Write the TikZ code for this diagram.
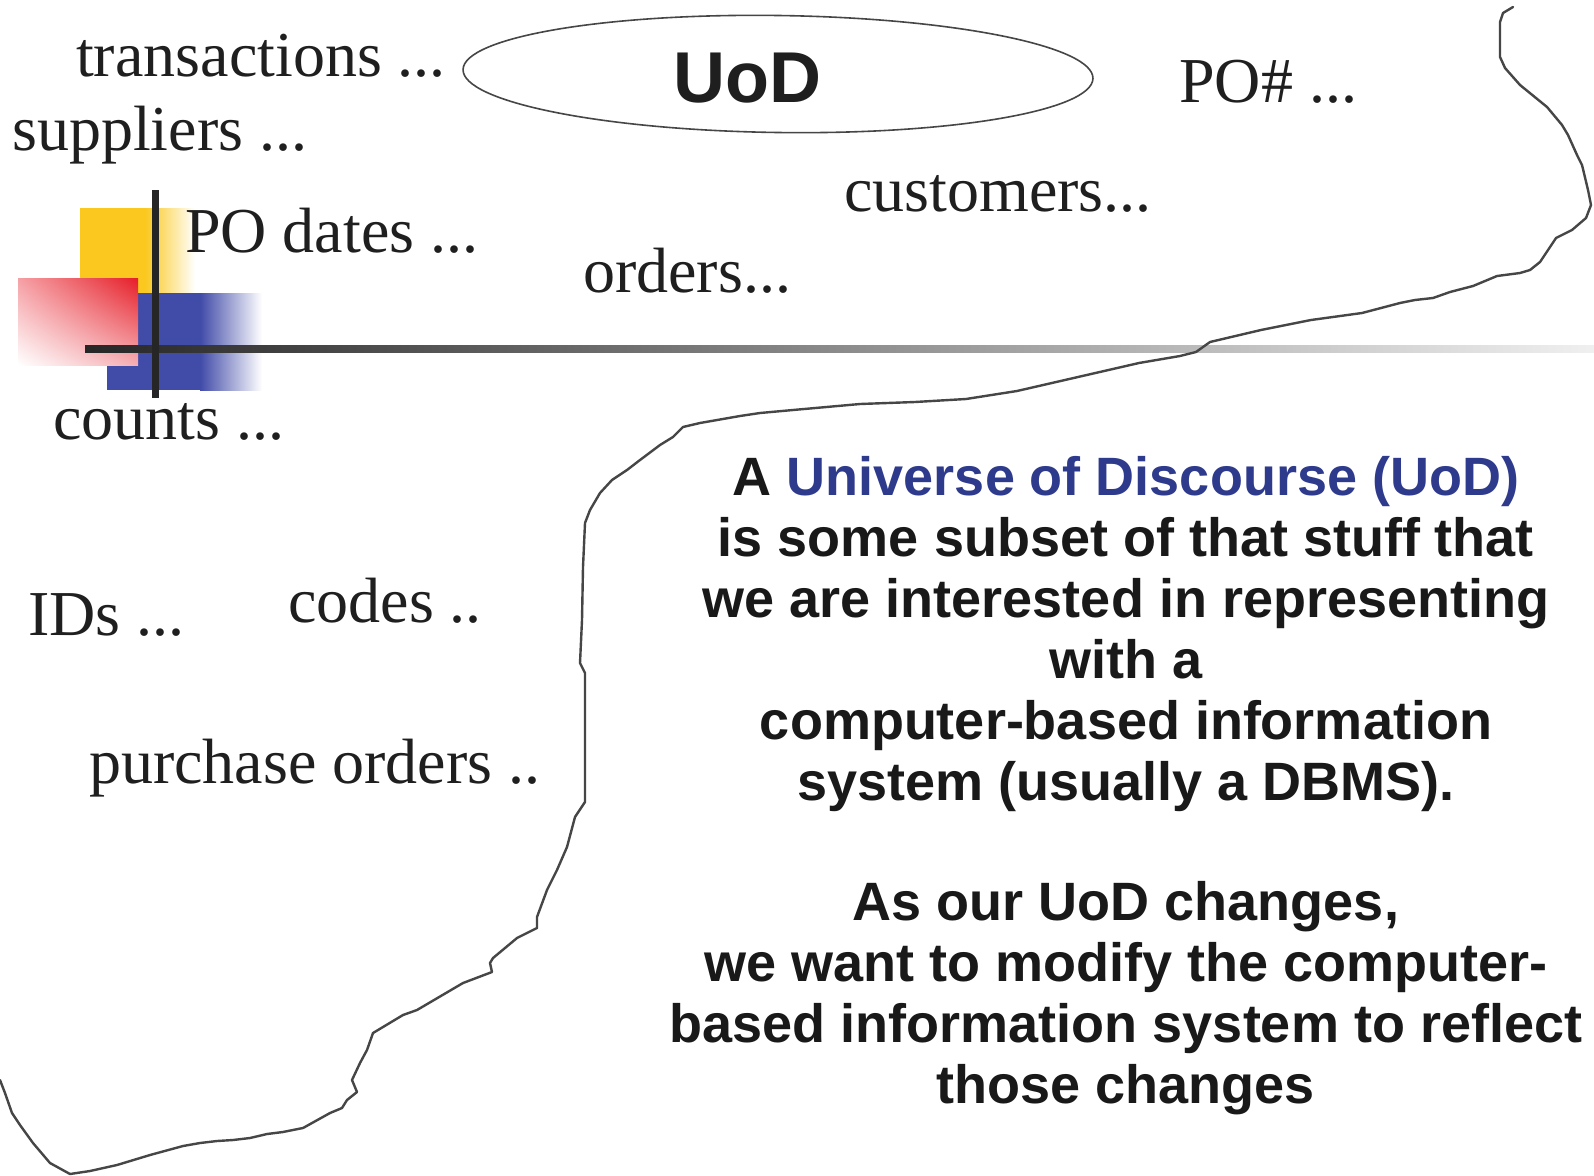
\documentclass[tikz,border=0pt]{standalone}
\usepackage{fontspec}
\setmainfont{Liberation Serif}
\setsansfont{Liberation Sans}
\usetikzlibrary{shapes.geometric,shadings}
\definecolor{uodblue}{RGB}{46,58,140}
\definecolor{decoyellow}{RGB}{250,200,30}
\definecolor{decored}{RGB}{230,30,40}
\definecolor{decoblue}{RGB}{65,75,168}
\definecolor{pinkA}{RGB}{245,160,165}
\definecolor{pinkB}{RGB}{245,175,180}
\definecolor{inkgray}{RGB}{70,70,70}
\tikzset{
  lbl/.style={font=\fontsize{64}{70}\selectfont\rmfamily, text=black!88, inner sep=0pt, anchor=base west},
  bodyline/.style={font=\fontsize{54}{61}\selectfont\sffamily\bfseries, text=black!90, inner sep=0pt, anchor=base},
  outline/.style={draw=inkgray, line width=2.4pt, line join=round, line cap=round},
}
\begin{document}
\begin{tikzpicture}[x=1pt,y=-1pt]
\useasboundingbox[fill=white] (0,0) rectangle (1594,1175);

% decoration: coloured blocks
\fill[decoyellow] (80,208) rectangle (145,300);
\shade[left color=decoyellow, right color=white] (145,208) rectangle (195,300);
\fill[decoblue] (107,293) rectangle (200,390);
\shade[left color=decoblue, right color=white] (200,293) rectangle (262,390);
\shade[upper left=pinkA, upper right=decored,
       lower left=white, lower right=pinkB]
       (18,278) rectangle (138,365);
% lines
\shade[left color=black!85, middle color=black!42, right color=black!6] (85,345.5) rectangle (1594,352.5);
\fill[black!85] (151.5,190) rectangle (158.5,398);

% ellipse
\node[draw=inkgray, line width=1.6pt, ellipse, minimum width=630pt, minimum height=117pt, inner sep=0pt, rotate=-0.8] (ell) at (778,74) {};
\node[font=\fontsize{72}{80}\selectfont\sffamily\bfseries, text=black!88, inner sep=0pt, anchor=base] (uod) at (747,102) {UoD};

% boundary curve
\draw[outline] (1513,7) -- (1503,13) -- (1500,22) -- (1500,57) -- (1505,68) -- (1520,85) -- (1547,107) -- (1562,125) -- (1568,135) -- (1577,155) -- (1582,165) -- (1588,190) -- (1591,205) -- (1586,218) -- (1572,230) -- (1560,236) -- (1556,238) -- (1548,250) -- (1540,262) -- (1530,270) -- (1520,273) -- (1497,276) -- (1473,286) -- (1450,292) -- (1433,298) -- (1415,300) -- (1400,303) -- (1362,313) -- (1311,320) -- (1261,330) -- (1210,342) -- (1196,352) -- (1180,356) -- (1139,363) -- (1078,377) -- (1017,391) -- (966,399) -- (915,402) -- (860,404) -- (793,410) -- (760,413) -- (740,416) -- (700,423) -- (683,427) -- (673,437) -- (660,445) -- (640,460) -- (627,470) -- (612,480) -- (600,493) -- (590,510) -- (585,523) -- (583,567) -- (582,620) -- (580,663) -- (585,673) -- (585,802) -- (575,817) -- (567,847) -- (557,870) -- (547,890) -- (537,917) -- (537,928) -- (517,938) -- (493,958) -- (490,963) -- (492,972) -- (463,983) -- (417,1010) -- (403,1015) -- (373,1033) -- (367,1050) -- (360,1063) -- (352,1080) -- (357,1092) -- (347,1100) -- (342,1108) -- (330,1113) -- (303,1128) -- (283,1132) -- (267,1134) -- (250,1138) -- (233,1140) -- (217,1141) -- (200,1143) -- (183,1146) -- (150,1155) -- (117,1165) -- (90,1171) -- (70,1174) -- (50,1163) -- (33,1143) -- (20,1125) -- (12,1113) -- (5,1093) -- (0,1080);

% scattered labels
\node[lbl] (trans) at (76,76) {transactions ...};
\node[lbl] (supp) at (12,150) {suppliers ...};
\node[lbl] (podates) at (185,252) {PO dates ...};
\node[lbl] (orders) at (583,292) {orders...};
\node[lbl] (cust) at (844,211) {customers...};
\node[lbl] (ponum) at (1179,102) {PO\# ...};
\node[lbl] (counts) at (53,439) {counts ...};
\node[lbl] (ids) at (28,635) {IDs ...};
\node[lbl] (codes) at (288,622) {codes ..};
\node[lbl] (porders) at (89,783) {purchase orders ..};

% explanatory text
\node[bodyline] (b1) at (1126,495) {A \textcolor{uodblue}{Universe of Discourse (UoD)}};
\node[bodyline] (b2) at (1126,556) {is some subset of that stuff that};
\node[bodyline] (b3) at (1126,617) {we are interested in representing};
\node[bodyline] (b4) at (1126,678) {with a};
\node[bodyline] (b5) at (1126,739) {computer-based information};
\node[bodyline] (b6) at (1126,800) {system (usually a DBMS).};
\node[bodyline] (b7) at (1126,920) {As our UoD changes,};
\node[bodyline] (b8) at (1126,981) {we want to modify the computer-};
\node[bodyline] (b9) at (1126,1042) {based information system to reflect};
\node[bodyline] (b10) at (1126,1103) {those changes};
\end{tikzpicture}
\end{document}
